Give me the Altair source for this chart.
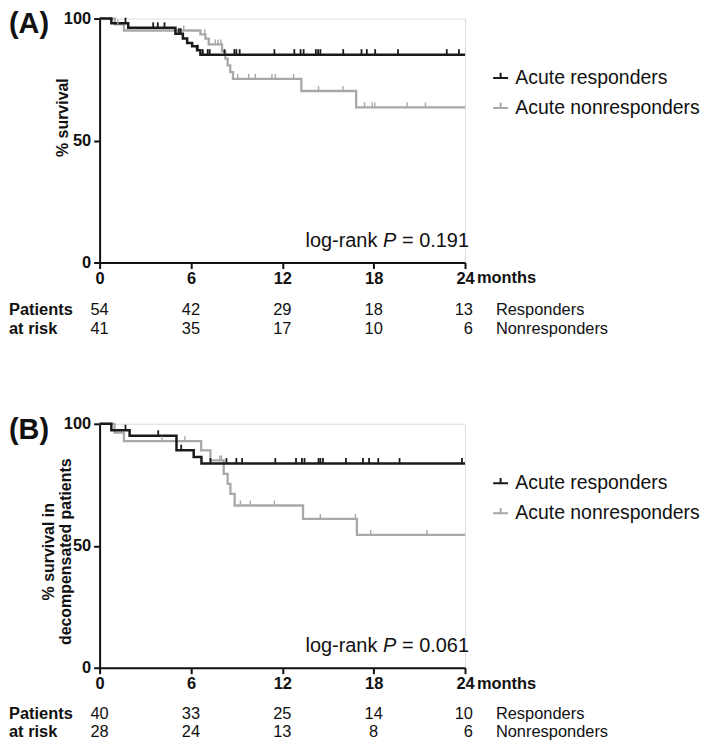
import altair as alt
import pandas as pd

FONT = "Liberation Sans"
BLACK = "#1a1a1a"
GRAY = "#a8a8a8"
TXT = "#111111"
W, H = 367, 245

GROUPS = ["Acute responders", "Acute nonresponders"]
TICKS_X = [0, 6, 12, 18, 24]

# ---------------- Panel A data ----------------
a_resp_t = [0, 0.77, 1.88, 4.98, 5.47, 5.75, 6.08, 6.4, 6.62, 24]
a_resp_s = [100, 98.1, 96.2, 93.8, 91.8, 90.0, 88.6, 87.0, 85.2, 85.2]
a_resp_cens = [1.7, 3.52, 3.82, 4.26, 5.2, 5.32, 6.45, 6.78, 7.1, 7.23, 8.2, 8.85,
               8.98, 9.2, 11.48, 12.79, 13.2, 13.4, 14.2, 14.35, 14.5, 16.0, 17.2,
               17.55, 18.1, 19.6, 22.8, 23.6]
a_non_t = [0, 1.0, 1.6, 6.62, 6.95, 7.17, 8.04, 8.26, 8.41, 8.58, 8.76, 13.25, 16.85, 24]
a_non_s = [100, 97.6, 95.1, 93.5, 91.8, 89.4, 86.5, 83.6, 80.8, 78.0, 75.3, 70.3, 63.6, 63.6]
a_non_cens = [1.2, 5.53, 6.9, 7.6, 7.78, 7.97, 9.07, 9.79, 10.23, 11.32, 11.54, 12.74,
              14.38, 15.98, 17.4, 17.9, 18.07, 20.2, 21.4]
a_risk_resp = [54, 42, 29, 18, 13]
a_risk_non = [41, 35, 17, 10, 6]
a_p = "0.191"

# ---------------- Panel B data ----------------
b_resp_t = [0, 0.77, 1.97, 5.05, 6.18, 6.69, 24]
b_resp_s = [100, 97.4, 95.1, 89.2, 86.4, 83.7, 83.7]
b_resp_cens = [1.7, 3.85, 5.36, 7.28, 8.33, 8.98, 9.36, 11.54, 12.9, 13.29, 13.46,
               14.38, 14.5, 14.67, 16.18, 17.3, 17.7, 18.3, 19.7, 23.8]
b_non_t = [0, 0.98, 1.6, 6.67, 7.28, 8.15, 8.41, 8.59, 8.87, 13.36, 16.9, 24]
b_non_s = [100, 96.4, 92.9, 89.1, 85.0, 79.5, 75.4, 71.3, 66.5, 61.0, 54.5, 54.5]
b_non_cens = [4.1, 5.6, 7.9, 8.0, 9.25, 9.9, 11.48, 14.5, 16.8, 17.8, 21.5]
b_risk_resp = [40, 33, 25, 14, 10]
b_risk_non = [28, 24, 13, 8, 6]
b_p = "0.061"


def level_at(times, surv, t):
    lv = surv[0]
    for ti, si in zip(times, surv):
        if ti <= t:
            lv = si
    return lv


xscale = alt.Scale(domain=[0, 24], nice=False, zero=False)
yscale = alt.Scale(domain=[0, 100], nice=False)
xaxis = alt.Axis(values=TICKS_X, title=None, grid=False, labelFont=FONT,
                 labelFontSize=16.5, labelFontWeight="bold", labelColor=TXT,
                 tickSize=6, tickWidth=2, tickColor=TXT, domainWidth=2,
                 domainColor=TXT, labelPadding=2, labelFlush=False)


def yaxis(title, tx, ty):
    return alt.Axis(values=[0, 50, 100], title=title, grid=False, labelFont=FONT,
                    labelFontSize=16.5, labelFontWeight="bold", labelColor=TXT,
                    tickSize=6, tickWidth=2, tickColor=TXT, domainWidth=2,
                    domainColor=TXT, labelPadding=3, titleFont=FONT,
                    titleFontSize=16, titleFontWeight="bold", titleColor=TXT,
                    titleX=tx, titleY=ty, titleAngle=270, titleBaseline="middle",
                    titleAlign="center", titleLineHeight=17, labelFlush=False)


legend = alt.Legend(orient="none", legendX=393, legendY=50, title=None,
                    symbolType="M-1,0H1M0,0V-0.7", symbolSize=225,
                    symbolStrokeWidth=2, labelFont=FONT, labelFontSize=19.5,
                    labelColor=TXT, labelOffset=5, rowPadding=9, padding=0,
                    labelLimit=0)
color = alt.Color("group:N", scale=alt.Scale(domain=GROUPS, range=[BLACK, GRAY]),
                  legend=legend)


def panel(label, ytitle, tx_, ty, rt, rs, rc, nt, ns, nc, risk_r, risk_n, pval, r1, r2):
    X = alt.X("t:Q", scale=xscale, axis=xaxis)
    Y = alt.Y("s:Q", scale=yscale, axis=yaxis(ytitle, tx_, ty))

    df_r = pd.DataFrame({"t": rt, "s": rs, "group": GROUPS[0]})
    df_n = pd.DataFrame({"t": nt, "s": ns, "group": GROUPS[1]})
    df_rc = pd.DataFrame({"t": rc, "s": [level_at(rt, rs, c) for c in rc]})
    df_nc = pd.DataFrame({"t": nc, "s": [level_at(nt, ns, c) for c in nc]})

    line_n = alt.Chart(df_n).mark_line(interpolate="step-after", strokeWidth=2.3).encode(
        x=X, y=Y, color=color)
    line_r = alt.Chart(df_r).mark_line(interpolate="step-after", strokeWidth=2.5).encode(
        x=X, y=Y, color=color)
    tick_n = alt.Chart(df_nc).mark_point(shape="M0,0V-1", size=100, filled=False,
                                         strokeWidth=1.4, opacity=1, color=GRAY).encode(x=X, y=Y)
    tick_r = alt.Chart(df_rc).mark_point(shape="M0,0V-1", size=121, filled=False,
                                         strokeWidth=1.8, opacity=1, color=BLACK).encode(x=X, y=Y)

    tx = dict(font=FONT, color=TXT)
    lab = alt.Chart(pd.DataFrame({"txt": [label]})).mark_text(
        align="left", baseline="top", fontSize=29, fontWeight="bold", **tx).encode(
        x=alt.value(-91), y=alt.value(-8), text="txt:N")
    yl = H - 22
    lr1 = alt.Chart(pd.DataFrame({"t": [24], "txt": ["log-rank"]})).mark_text(
        align="right", baseline="middle", fontSize=20, dx=-88, **tx).encode(
        x=X, y=alt.value(yl), text="txt:N")
    lr2 = alt.Chart(pd.DataFrame({"t": [24], "txt": ["P"]})).mark_text(
        align="right", baseline="middle", fontSize=20, fontStyle="italic", dx=-69, **tx).encode(
        x=X, y=alt.value(yl), text="txt:N")
    lr3 = alt.Chart(pd.DataFrame({"t": [24], "txt": ["= " + pval]})).mark_text(
        align="right", baseline="middle", fontSize=20, dx=4, **tx).encode(
        x=X, y=alt.value(yl), text="txt:N")
    months = alt.Chart(pd.DataFrame({"t": [24], "txt": ["months"]})).mark_text(
        align="left", baseline="top", fontSize=16.5, fontWeight="bold", dx=12, **tx).encode(
        x=X, y=alt.value(H + 8), text="txt:N")

    risk = pd.DataFrame({"t": TICKS_X * 2, "n": risk_r + risk_n,
                         "row": ["r"] * 5 + ["n"] * 5})
    base = alt.Chart(risk)
    mid = base.transform_filter("datum.t < 24")
    end = base.transform_filter("datum.t >= 24")
    rows = []
    for key, yy in (("r", r1), ("n", r2)):
        rows.append(mid.transform_filter(f"datum.row == '{key}'").mark_text(
            align="center", baseline="middle", fontSize=16.5, **tx).encode(
            x=X, y=alt.value(yy), text="n:Q"))
        rows.append(end.transform_filter(f"datum.row == '{key}'").mark_text(
            align="right", baseline="middle", fontSize=16.5, dx=8, **tx).encode(
            x=X, y=alt.value(yy), text="n:Q"))
    rl = pd.DataFrame({"txt": ["Patients", "at risk"], "yy": [r1, r2]})
    rowlab = alt.Chart(rl).mark_text(align="left", baseline="middle", fontSize=16.5,
                                     fontWeight="bold", **tx).encode(
        x=alt.value(-91), y=alt.Y("yy:Q", scale=None), text="txt:N")
    gl = pd.DataFrame({"txt": ["Responders", "Nonresponders"], "yy": [r1, r2]})
    grplab = alt.Chart(gl).mark_text(align="left", baseline="middle", fontSize=16.5, **tx).encode(
        x=alt.value(398), y=alt.Y("yy:Q", scale=None), text="txt:N")

    return alt.layer(line_n, line_r, tick_n, tick_r, lab, lr1, lr2, lr3, months,
                     *rows, rowlab, grplab).properties(width=W, height=H)


pA = panel("(A)", "% survival", -37, 99, a_resp_t, a_resp_s, a_resp_cens, a_non_t,
           a_non_s, a_non_cens, a_risk_resp, a_risk_non, a_p, H + 48, H + 67)
pB = panel("(B)", ["% survival in", "decompensated patients"], -51, 128, b_resp_t,
           b_resp_s, b_resp_cens, b_non_t, b_non_s, b_non_cens, b_risk_resp, b_risk_non,
           b_p, H + 46, H + 65)

chart = alt.vconcat(pA, pB, spacing=162, bounds="flush").resolve_scale(
    color="independent").resolve_legend(color="independent").properties(
    padding=0).configure_view(stroke=None).configure(font=FONT)

chart.save("out.html", embed_options={"renderer": "svg", "actions": False})
